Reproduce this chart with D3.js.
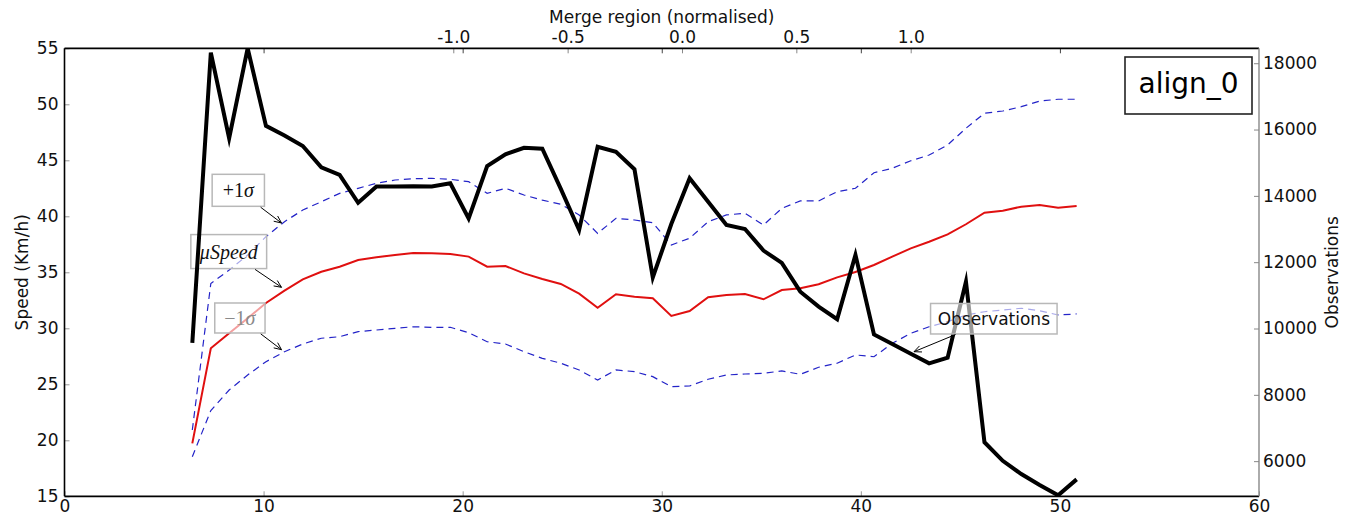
<!DOCTYPE html>
<html><head><meta charset="utf-8">
<script src="https://cdn.jsdelivr.net/npm/d3@7"></script>
<style>
body{margin:0;background:#fff;}
svg{display:block;font-family:"DejaVu Sans",sans-serif;}
</style></head><body>
<svg id="chart" width="1360" height="519"></svg>
<script>
// Distance along the road section (bottom axis)
const distance = [6.42, 7.35, 8.27, 9.20, 10.12, 11.05, 11.97, 12.90, 13.82, 14.75, 15.67, 16.60, 17.52, 18.45, 19.38, 20.30, 21.23, 22.15, 23.08, 24.00, 24.93, 25.85, 26.78, 27.70, 28.63, 29.55, 30.48, 31.40, 32.33, 33.25, 34.18, 35.11, 36.03, 36.96, 37.88, 38.81, 39.73, 40.66, 41.58, 42.51, 43.43, 44.36, 45.28, 46.21, 47.13, 48.06, 48.98, 49.91, 50.84];
// Mean speed and +/- one standard deviation (Km/h)
const meanSpeed = [19.73, 28.21, 29.55, 30.9, 32.26, 33.36, 34.37, 35.05, 35.5, 36.1, 36.34, 36.55, 36.72, 36.7, 36.63, 36.4, 35.5, 35.56, 34.9, 34.4, 33.96, 33.1, 31.84, 33.04, 32.82, 32.68, 31.1, 31.54, 32.77, 32.97, 33.06, 32.59, 33.42, 33.57, 33.93, 34.55, 35.03, 35.65, 36.4, 37.14, 37.73, 38.39, 39.29, 40.32, 40.5, 40.86, 41.0, 40.77, 40.92];
const upperSpeed = [20.92, 34.0, 35.2, 36.54, 38.18, 39.52, 40.56, 41.3, 42.05, 42.5, 42.95, 43.24, 43.35, 43.39, 43.3, 43.09, 42.05, 42.5, 41.9, 41.45, 41.07, 40.12, 38.48, 39.82, 39.67, 39.43, 37.44, 38.04, 39.52, 40.12, 40.27, 39.22, 40.71, 41.37, 41.37, 42.2, 42.5, 43.89, 44.29, 44.96, 45.47, 46.37, 47.86, 49.2, 49.4, 49.79, 50.29, 50.45, 50.45];
const lowerSpeed = [18.54, 22.66, 24.49, 25.83, 27.02, 27.91, 28.6, 29.11, 29.25, 29.7, 29.85, 30.0, 30.14, 30.09, 30.09, 29.61, 28.8, 28.6, 27.91, 27.32, 26.88, 26.28, 25.38, 26.28, 26.13, 25.68, 24.79, 24.85, 25.45, 25.83, 25.92, 25.98, 26.19, 25.89, 26.52, 26.88, 27.62, 27.46, 28.66, 29.55, 30.14, 30.59, 31.19, 31.48, 31.63, 31.79, 31.57, 31.19, 31.28];
// Number of observations per bin (right axis)
const observations = [9570, 18320, 15740, 18450, 16110, 15820, 15505, 14860, 14630, 13790, 14280, 14280, 14290, 14280, 14380, 13320, 14900, 15255, 15450, 15420, 14210, 12970, 15480, 15330, 14800, 11540, 13150, 14530, 13820, 13120, 13000, 12350, 11980, 11110, 10660, 10280, 12220, 9820, 9530, 9240, 8950, 9120, 11410, 6570, 6010, 5610, 5280, 4970, 5450];

const distanceTicks = [0, 10, 20, 30, 40, 50, 60];
const speedTicks = [15, 20, 25, 30, 35, 40, 45, 50, 55];
const obsTicks = [6000, 8000, 10000, 12000, 14000, 16000, 18000];
const mergeTicks = [-1.0, -0.5, 0.0, 0.5, 1.0];
const panelName = "align_0";

const svg = d3.select("#chart");
const L = 64.5, R = 1259, T = 48.3, B = 496.3;
const FS = 17;

const x = d3.scaleLinear().domain([0, 60]).range([L, R]);
const xMerge = d3.scaleLinear().domain([-2.70, 2.523]).range([L, R]);
const y = d3.scaleLinear().domain([15, 55]).range([B, T]);
const yObs = d3.scaleLinear().domain([4940, 18450]).range([B, T]);

svg.append("defs").append("clipPath").attr("id", "plotclip")
  .append("rect").attr("x", L).attr("y", T).attr("width", R - L).attr("height", B - T);

function styleAxis(g, tickColor) {
  g.select(".domain").remove();
  g.selectAll(".tick line").attr("stroke", tickColor).attr("stroke-width", 1);
  g.selectAll(".tick text").attr("fill", "#111").style("font-size", FS + "px")
    .style("font-family", "'DejaVu Sans',sans-serif");
}

// Axes (ticks point inwards)
svg.append("g").attr("transform", `translate(${L},0)`)
  .call(d3.axisLeft(y).tickValues(speedTicks).tickSizeInner(-5).tickSizeOuter(0).tickPadding(6).tickFormat(d3.format("d")))
  .call(g => styleAxis(g, "#999"));

svg.append("g").attr("transform", `translate(0,${B})`)
  .call(d3.axisBottom(x).tickValues(distanceTicks).tickSizeInner(-5).tickSizeOuter(0).tickPadding(4).tickFormat(d3.format("d")))
  .call(g => styleAxis(g, "#999"));

svg.append("g").attr("transform", `translate(0,${T})`)
  .call(d3.axisTop(x).tickValues(distanceTicks.slice(1, -1)).tickSizeInner(-5).tickSizeOuter(0).tickFormat(""))
  .call(g => styleAxis(g, "#444"));

svg.append("g").attr("transform", `translate(0,${T})`)
  .call(d3.axisTop(xMerge).tickValues(mergeTicks).tickSizeInner(-5).tickSizeOuter(0).tickPadding(5).tickFormat(d => d.toFixed(1)))
  .call(g => styleAxis(g, "#888"));

svg.append("g").attr("transform", `translate(${R},0)`)
  .call(d3.axisRight(yObs).tickValues(obsTicks).tickSizeInner(-5).tickSizeOuter(0).tickPadding(4).tickFormat(d3.format("d")))
  .call(g => styleAxis(g, "#888"));

// Axis titles
svg.append("text").attr("transform", `translate(28,${(T + B) / 2}) rotate(-90)`)
  .attr("text-anchor", "middle").style("font-size", FS + "px").attr("fill", "#111").text("Speed (Km/h)");
svg.append("text").attr("transform", `translate(1338,${(T + B) / 2}) rotate(-90)`)
  .attr("text-anchor", "middle").style("font-size", FS + "px").attr("fill", "#111").text("Observations");
svg.append("text").attr("x", (L + R) / 2).attr("y", 23)
  .attr("text-anchor", "middle").style("font-size", FS + "px").attr("fill", "#111").text("Merge region (normalised)");

// Speed series
const plot = svg.append("g").attr("clip-path", "url(#plotclip)");
const speedLine = arr => d3.line().x((d, i) => x(distance[i])).y(d => y(d))(arr);

plot.append("path").attr("d", speedLine(upperSpeed)).attr("fill", "none")
  .attr("stroke", "#2424c8").attr("stroke-width", 1.2).attr("stroke-dasharray", "7,5");
plot.append("path").attr("d", speedLine(lowerSpeed)).attr("fill", "none")
  .attr("stroke", "#2424c8").attr("stroke-width", 1.2).attr("stroke-dasharray", "7,5");
plot.append("path").attr("d", speedLine(meanSpeed)).attr("fill", "none")
  .attr("stroke", "#e01010").attr("stroke-width", 2);

// Annotation with a boxed label and an arrow to the target point
function annotate(parent, opts) {
  const g = parent.append("g");
  const tx = opts.xs(opts.textAt[0]), ty = opts.ys(opts.textAt[1]);
  const px = opts.xs(opts.target[0]), py = opts.ys(opts.target[1]);
  const box = g.append("rect");
  const t = g.append("text").attr("x", tx).attr("y", ty)
    .attr("text-anchor", "middle").attr("dominant-baseline", "central")
    .style("font-size", opts.size + "px").style("font-family", opts.family)
    .attr("fill", opts.color || "#111");
  opts.parts.forEach(p => t.append("tspan").style("font-style", p.italic ? "italic" : "normal").text(p.text));
  const bb = t.node().getBBox();
  const w = bb.width + 2 * opts.padX, h = opts.boxH;
  box.attr("x", tx - w / 2).attr("y", ty - h / 2).attr("width", w).attr("height", h)
    .attr("fill", "#fff").attr("fill-opacity", 0.6).attr("stroke", "#b8b8b8").attr("stroke-width", 1.5);
  // arrow starts at the box edge
  const dx = px - tx, dy = py - ty;
  const s = Math.min(Math.abs((w / 2) / dx), Math.abs((h / 2) / dy));
  const len = Math.hypot(dx, dy);
  const sx = tx + dx * s + dx / len * 1.5, sy = ty + dy * s + dy / len * 1.5;
  g.append("line").attr("x1", sx).attr("y1", sy).attr("x2", px).attr("y2", py)
    .attr("stroke", "#000").attr("stroke-width", 1);
  const ang = Math.atan2(py - sy, px - sx), hl = 8, ha = 0.42;
  g.append("path")
    .attr("d", `M${px - hl * Math.cos(ang - ha)},${py - hl * Math.sin(ang - ha)}L${px},${py}L${px - hl * Math.cos(ang + ha)},${py - hl * Math.sin(ang + ha)}`)
    .attr("fill", "none").attr("stroke", "#000").attr("stroke-width", 1);
  t.raise();
}

const serif = "'Liberation Serif','DejaVu Serif',serif";
annotate(svg, { xs: x, ys: y, textAt: [8.73, 42.32], target: [10.9, 39.4], padX: 10, boxH: 32,
  size: 20, family: serif, parts: [{ text: "+1" }, { text: "σ", italic: true }] });
annotate(svg, { xs: x, ys: y, textAt: [8.25, 36.85], target: [10.9, 33.66], padX: 8, boxH: 34,
  size: 20, family: serif, parts: [{ text: "μSpeed", italic: true }] });
annotate(svg, { xs: x, ys: y, textAt: [8.81, 30.92], target: [10.9, 28.09], padX: 9, boxH: 30,
  size: 20, family: serif, color: "#8a8a8a", parts: [{ text: "−1" }, { text: "σ", italic: true }] });

// Observations series (right axis)
const obsPlot = svg.append("g").attr("clip-path", "url(#plotclip)");
obsPlot.append("path")
  .attr("d", d3.line().x((d, i) => x(distance[i])).y(d => yObs(d))(observations))
  .attr("fill", "none").attr("stroke", "#000").attr("stroke-width", 4)
  .attr("stroke-linejoin", "miter").attr("stroke-miterlimit", 6);

annotate(svg, { xs: x, ys: yObs, textAt: [46.68, 10295], target: [42.67, 9300], padX: 7, boxH: 30.5,
  size: FS, family: "'DejaVu Sans',sans-serif", parts: [{ text: "Observations" }] });

// Frame
const frame = svg.append("g");
frame.append("line").attr("x1", L).attr("x2", R).attr("y1", T).attr("y2", T).attr("stroke", "#000").attr("stroke-width", 1.8);
frame.append("line").attr("x1", L).attr("x2", R).attr("y1", B).attr("y2", B).attr("stroke", "#000").attr("stroke-width", 1.8);
frame.append("line").attr("x1", L).attr("x2", L).attr("y1", T).attr("y2", B).attr("stroke", "#000").attr("stroke-width", 1.6);
frame.append("line").attr("x1", R).attr("x2", R).attr("y1", T).attr("y2", B).attr("stroke", "#888").attr("stroke-width", 1.4);

// Panel label
const legend = svg.append("g");
legend.append("rect").attr("x", 1125).attr("y", 57).attr("width", 127).attr("height", 57)
  .attr("fill", "#fff").attr("stroke", "#222").attr("stroke-width", 1.6);
legend.append("text").attr("x", 1188.5).attr("y", 93).attr("text-anchor", "middle")
  .style("font-size", "28px").attr("fill", "#000").text(panelName);
</script>
</body></html>
